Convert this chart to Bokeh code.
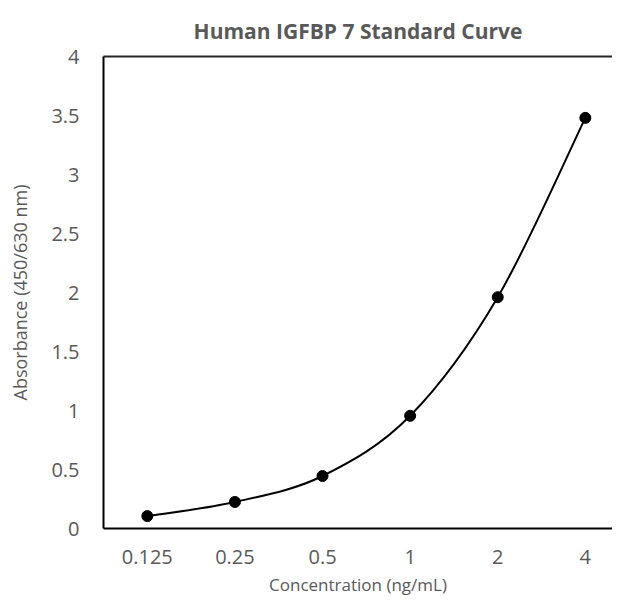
from bokeh.plotting import figure
from bokeh.models import Range1d, FixedTicker, LinearAxis
from bokeh.embed import file_html
from bokeh.resources import INLINE

categories = ["0.125", "0.25", "0.5", "1", "2", "4"]
absorbance = [0.105, 0.225, 0.445, 0.955, 1.96, 3.48]
y_ticks = [0, 0.5, 1, 1.5, 2, 2.5, 3, 3.5, 4]
y_tick_labels = ["0", "0.5", "1", "1.5", "2", "2.5", "3", "3.5", "4"]

FONT = "Open Sans"
GRAY = "#595959"

xs = [i + 0.5 for i in range(len(categories))]
ys = absorbance

p = figure(width=612, height=599, output_backend="svg", toolbar_location=None,
           x_range=Range1d(0, 5.81), y_range=Range1d(0, 4),
           min_border_left=103, min_border_right=0, min_border_top=56,
           min_border_bottom=71)
p.title.text = "Human IGFBP 7 Standard Curve"
p.title.align = "center"
p.title.text_font = FONT
p.title.text_font_size = "21px"
p.title.text_font_style = "bold"
p.title.text_color = GRAY
p.title.standoff = 23
p.outline_line_color = None
p.grid.visible = False

# smoothed curve (Excel-like Catmull-Rom Bezier through the data points)
n = len(xs)
bx0, by0, bx1, by1, cx0, cy0, cx1, cy1 = [], [], [], [], [], [], [], []
for i in range(n - 1):
    xm = xs[i - 1] if i > 0 else xs[i]
    ym = ys[i - 1] if i > 0 else ys[i]
    xp = xs[i + 2] if i + 2 < n else xs[i + 1]
    yp = ys[i + 2] if i + 2 < n else ys[i + 1]
    bx0.append(xs[i]); by0.append(ys[i])
    bx1.append(xs[i + 1]); by1.append(ys[i + 1])
    cx0.append(xs[i] + (xs[i + 1] - xm) / 6); cy0.append(ys[i] + (ys[i + 1] - ym) / 6)
    cx1.append(xs[i + 1] - (xp - xs[i]) / 6); cy1.append(ys[i + 1] - (yp - ys[i]) / 6)
p.bezier(x0=bx0, y0=by0, x1=bx1, y1=by1, cx0=cx0, cy0=cy0, cx1=cx1, cy1=cy1,
         line_color="black", line_width=2)
p.scatter(xs, ys, size=11, color="black")

for ax in (p.xaxis[0], p.yaxis[0]):
    ax.axis_line_color = "black"
    ax.axis_line_width = 2
    ax.major_tick_line_color = None
    ax.minor_tick_line_color = None
    ax.major_label_text_font = FONT
    ax.major_label_text_font_size = "20px"
    ax.major_label_text_color = GRAY
    ax.axis_label_text_font = FONT
    ax.axis_label_text_font_style = "normal"
    ax.axis_label_text_color = GRAY

p.xaxis.ticker = FixedTicker(ticks=xs)
p.xaxis.major_label_overrides = {x: c for x, c in zip(xs, categories)}
p.xaxis.major_label_standoff = 15
p.xaxis.axis_label = "Concentration (ng/mL)"
p.xaxis.axis_label_text_font_size = "17px"
p.xaxis.axis_label_standoff = 6

p.yaxis.ticker = FixedTicker(ticks=y_ticks)
p.yaxis.major_label_overrides = {t: l for t, l in zip(y_ticks, y_tick_labels)}
p.yaxis.major_label_standoff = 18
p.yaxis.axis_label = "Absorbance (450/630 nm)"
p.yaxis.axis_label_text_font_size = "18px"
p.yaxis.axis_label_standoff = 16

top = LinearAxis(axis_line_color="#262626", axis_line_width=2,
                 major_tick_line_color=None, minor_tick_line_color=None,
                 major_label_text_font_size="0px", ticker=FixedTicker(ticks=[]))
p.add_layout(top, "above")

open("out.html", "w").write(file_html(p, INLINE))
